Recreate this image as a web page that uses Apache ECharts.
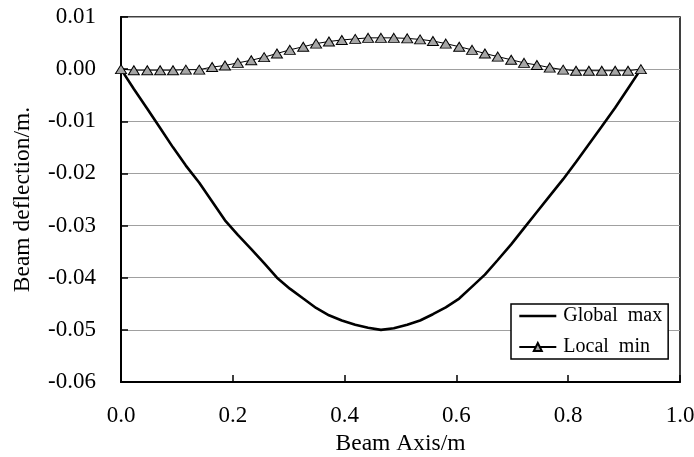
<!DOCTYPE html>
<html><head><meta charset="utf-8">
<script src="https://cdn.jsdelivr.net/npm/echarts@6/dist/echarts.min.js"></script>
<style>html,body{margin:0;padding:0;background:#fff}#c{width:694px;height:457px}</style>
</head><body><div id="c"></div>
<script>
var beamX = [0, 0.023, 0.047, 0.070, 0.093, 0.116, 0.140, 0.163, 0.186, 0.209, 0.233, 0.256, 0.279, 0.302, 0.326, 0.349, 0.372, 0.395, 0.419, 0.442, 0.465, 0.488, 0.512, 0.535, 0.558, 0.581, 0.605, 0.628, 0.651, 0.674, 0.698, 0.721, 0.744, 0.767, 0.791, 0.814, 0.837, 0.860, 0.884, 0.907, 0.930];
var globalMax = [0, -0.0038, -0.0076, -0.0113, -0.0150, -0.0185, -0.0218, -0.0254, -0.0290, -0.0318, -0.0345, -0.0372, -0.0400, -0.0421, -0.0440, -0.0458, -0.0472, -0.0482, -0.0490, -0.0496, -0.0500, -0.0497, -0.0490, -0.0482, -0.0470, -0.0457, -0.0440, -0.0417, -0.0394, -0.0366, -0.0336, -0.0305, -0.0274, -0.0243, -0.0211, -0.0178, -0.0144, -0.0110, -0.0074, -0.0037, 0];
var localMin = [0, -0.0002, -0.0002, -0.0002, -0.0002, -0.0001, -0.0001, 0.0004, 0.0007, 0.0012, 0.0017, 0.0023, 0.0030, 0.0037, 0.0043, 0.0049, 0.0053, 0.0056, 0.0058, 0.0060, 0.0060, 0.0060, 0.0059, 0.0057, 0.0054, 0.0049, 0.0043, 0.0037, 0.0030, 0.0024, 0.0018, 0.0012, 0.0008, 0.0003, -0.0001, -0.0003, -0.0003, -0.0003, -0.0003, -0.0003, 0];
var seriesNames = ['Global max', 'Local min'];
var legendLabels = ['Global  max', 'Local  min'];
var xAxisName = 'Beam Axis/m';
var yAxisName = 'Beam deflection/m.';

function pairs(xs, ys) { return xs.map(function (x, i) { return [x, ys[i]]; }); }

var font = 'Liberation Serif, Times New Roman, serif';
var chart = echarts.init(document.getElementById('c'), null, {renderer: 'canvas'});
chart.setOption({
  animation: false,
  backgroundColor: '#fff',
  grid: {left: 121, right: 14, top: 17, bottom: 75, outerBoundsMode: 'none', containLabel: false,
    show: true, borderColor: '#000', borderWidth: 1.5, backgroundColor: 'transparent'},
  xAxis: {
    type: 'value', min: 0, max: 1, interval: 0.2,
    name: xAxisName, nameLocation: 'middle', nameGap: 48,
    nameTextStyle: {fontFamily: font, fontSize: 23.5, color: '#000'},
    axisLine: {show: true, onZero: false, lineStyle: {color: '#000', width: 2}},
    axisTick: {show: true, inside: true, length: 7, lineStyle: {color: '#000', width: 1.5}},
    splitLine: {show: false},
    axisLabel: {margin: 22, fontFamily: font, fontSize: 23, color: '#000', formatter: function (v) { return v.toFixed(1); }}
  },
  yAxis: {
    type: 'value', min: -0.06, max: 0.01, interval: 0.01,
    name: yAxisName, nameLocation: 'middle', nameGap: 86,
    nameTextStyle: {fontFamily: font, fontSize: 23.5, color: '#000'},
    axisLine: {show: true, lineStyle: {color: '#000', width: 2}},
    axisTick: {show: true, inside: true, length: 7, lineStyle: {color: '#000', width: 1.5}},
    splitLine: {show: true, lineStyle: {color: '#a0a0a0', width: 1.2}},
    axisLabel: {margin: 25, fontFamily: font, fontSize: 23, color: '#000', formatter: function (v) { return v.toFixed(2); }}
  },
  legend: {
    left: 511, top: 304, orient: 'vertical',
    data: [
      {name: seriesNames[0], itemStyle: {color: 'rgba(0,0,0,0)', borderWidth: 0}, lineStyle: {color: '#000', width: 2.6}},
      {name: seriesNames[1]}
    ],
    formatter: function (name) { return legendLabels[seriesNames.indexOf(name)]; },
    backgroundColor: '#fff', borderColor: '#000', borderWidth: 1.5,
    padding: [2, 6, 2, 7], itemGap: 11, itemWidth: 37, itemHeight: 10,
    textStyle: {fontFamily: font, fontSize: 20, color: '#000', padding: [0, 0, 0, 2]}
  },
  series: [
    {
      name: seriesNames[0], type: 'line', data: pairs(beamX, globalMax),
      showSymbol: false, symbol: 'none',
      lineStyle: {color: '#000', width: 2.6}, itemStyle: {color: '#000'}, z: 3
    },
    {
      name: seriesNames[1], type: 'line', data: pairs(beamX, localMin),
      symbol: 'triangle', symbolSize: [11, 9],
      lineStyle: {color: '#000', width: 1},
      itemStyle: {color: '#a6a6a6', borderColor: '#000', borderWidth: 1}, z: 4
    }
  ]
});
</script></body></html>
